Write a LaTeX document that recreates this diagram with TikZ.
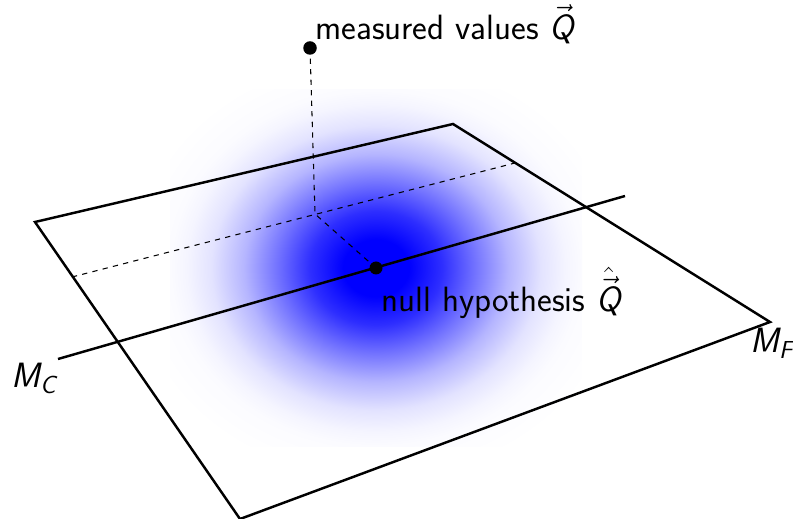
\documentclass[tikz,border=0pt]{standalone}
\usepackage{amsmath}
\usepackage{tikz}
\usetikzlibrary{calc}

\pgfdeclareradialshading{nullglow}{\pgfpoint{0bp}{0bp}}{%
  color(0bp)=(blue); color(4bp)=(blue); color(8bp)=(blue!82);
  color(12bp)=(blue!55); color(16bp)=(blue!29); color(20bp)=(blue!11);
  color(23bp)=(blue!4); color(25bp)=(blue!1.5); color(30bp)=(white);
  color(50bp)=(white)}

\newcommand{\sfq}{\text{\itshape Q}}

\begin{document}
\begin{tikzpicture}[
    x=0.02cm, y=-0.02cm,
    font=\fontsize{20}{24}\selectfont\sffamily,
    plane/.style={draw=black, line width=1.4pt, line join=miter},
    proj/.style={draw=black, dashed, line width=0.6pt},
    dot/.style={circle, fill=black, inner sep=0pt, minimum size=#1},
    dot/.default=0.27cm,
    lbl/.style={anchor=base west, inner sep=0pt}
]
\useasboundingbox (0,0) rectangle (793,519);

% -- likelihood cloud round the null hypothesis --
\shade[shading=nullglow] (170,90) rectangle (582,446);

% -- full model plane M_F --
\coordinate (fl) at (35,222);
\coordinate (ft) at (453,124);
\coordinate (fr) at (770,322);
\coordinate (fb) at (240,519);
\draw[plane] (fl) -- (ft) -- (fr) -- (fb) -- cycle;

% -- constrained model line M_C and its shifted copy --
\coordinate (cl) at (58,359);
\coordinate (cr) at (625,196);
\draw[plane] (cl) -- (cr);
\coordinate (sl) at (72,277);
\coordinate (sr) at (515,163);
\draw[proj] (sl) -- (sr);

% -- points --
\node[dot] (meas) at (310,48) {};
\node[dot=0.26cm] (null) at (376,268) {};
\coordinate (foot) at (315,214);
\draw[proj] (meas.center) -- (foot) -- (null.center);

% -- labels --
\node[lbl] (measlbl) at (315,40) {measured values $\vec{\sfq}$};
\node[lbl] (nulllbl) at (381,312) {null hypothesis $\hat{\vec{\sfq}}$};
\node[lbl] (mclbl) at (11,388) {\itshape M\textsubscript{C}};
\node[lbl] (mflbl) at (750,353) {\itshape M\textsubscript{F}};

\end{tikzpicture}
\end{document}
